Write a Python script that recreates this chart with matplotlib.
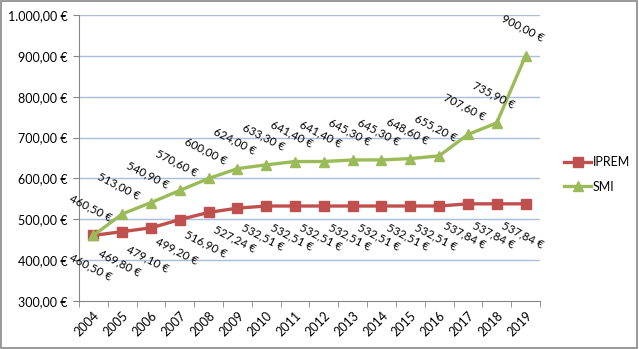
import matplotlib.pyplot as plt
from matplotlib.patches import Rectangle

years = [str(y) for y in range(2004, 2020)]
iprem = [460.50, 469.80, 479.10, 499.20, 516.90, 527.24, 532.51, 532.51,
         532.51, 532.51, 532.51, 532.51, 532.51, 537.84, 537.84, 537.84]
smi = [460.50, 513.00, 540.90, 570.60, 600.00, 624.00, 633.30, 641.40,
       641.40, 645.30, 645.30, 648.60, 655.20, 707.60, 735.90, 900.00]

red = '#C0504D'
green = '#9BBB59'
plt.rcParams['font.family'] = ['Lato', 'DejaVu Sans']


def euro(v):
    s = f"{v:,.2f}"
    s = s.replace(',', 'X').replace('.', ',').replace('X', '.')
    return s + ' €'


fig = plt.figure(figsize=(6.39, 3.49), dpi=100)
ax = fig.add_axes([0.1236, 0.1375, 0.845 - 0.1236, 0.957 - 0.1375])

x = list(range(len(years)))
ax.plot(x, iprem, color=red, lw=2.4, marker='s', ms=7, label='IPREM', zorder=3)
ax.plot(x, smi, color=green, lw=2.4, marker='^', ms=7.5, label='SMI', zorder=3)

for i in x:
    ax.annotate(euro(iprem[i]), (i, iprem[i]), xytext=(-3, -31),
                textcoords='offset pixels', ha='center', va='center',
                rotation=-27, fontsize=8.3, rotation_mode='anchor')
    ax.annotate(euro(smi[i]), (i, smi[i]), xytext=(-3, 28),
                textcoords='offset pixels', ha='center', va='center',
                rotation=-27, fontsize=8.3, rotation_mode='anchor')

ax.set_xlim(-0.5, len(years) - 0.5)
ax.set_ylim(300, 1000)
ax.set_yticks(range(300, 1001, 100))
ax.set_yticklabels([euro(v) for v in range(300, 1001, 100)], fontsize=9)
ax.set_xticks(x)
ax.set_xticklabels(years, rotation=45, ha='right', va='top', fontsize=9,
                   rotation_mode='anchor')
ax.set_xticks([i - 0.5 for i in range(len(years) + 1)], minor=True)
ax.tick_params(axis='x', which='major', length=0, pad=6)
ax.tick_params(axis='x', which='minor', length=4, color='#868686')
ax.tick_params(axis='y', length=4, color='#868686', pad=4)

for v in range(400, 1001, 100):
    ax.axhline(v, color='#A9BEDD', lw=1, zorder=0)

for s in ['top', 'right']:
    ax.spines[s].set_visible(False)
for s in ['left', 'bottom']:
    ax.spines[s].set_color('#868686')

fig.legend(loc='upper left', bbox_to_anchor=(0.865, 0.585), frameon=False,
           fontsize=9, handlelength=2.2, handletextpad=0.1, labelspacing=1.0)

fig.patches.append(Rectangle((0.002, 0.003), 0.995, 0.993, transform=fig.transFigure,
                             fill=False, edgecolor='#888888', lw=1.2))

fig.savefig('out.png', dpi=100)
